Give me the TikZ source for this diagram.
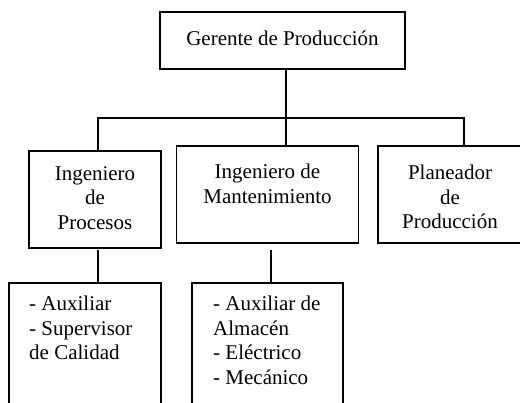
\documentclass[tikz,border=0pt]{standalone}
\usepackage{fontspec}
\setmainfont{Liberation Serif}
\begin{document}
\begin{tikzpicture}[x=1pt,y=-1pt,
  box/.style={draw=black,line width=1.3pt,inner sep=0pt},
  conn/.style={draw=black,line width=1.3pt},
  txt/.style={inner sep=0pt,font=\fontsize{21}{24.5}\selectfont}]
\useasboundingbox (0,0) rectangle (520,403);
\clip (0,0) rectangle (520,403);
% boxes
\node[box,minimum width=245pt,minimum height=57pt] (top) at (282.5,40.5) {};
\node[box,minimum width=132pt,minimum height=97pt] (left) at (95,199.5) {};
\node[box,minimum width=182pt,minimum height=97pt] (mid) at (267.5,194.5) {};
\node[box,minimum width=200pt,minimum height=97pt] (right) at (478,194.5) {};
\node[box,minimum width=152pt,minimum height=150pt] (lsub) at (85,358) {};
\node[box,minimum width=151pt,minimum height=150pt] (msub) at (267.5,358) {};
% texts
\node[txt] (ttop) at (282.5,38) {Gerente de Producción};
\node[txt,align=center,anchor=north] (tleft) at (95,166) {Ingeniero\\de\\Procesos};
\node[txt,align=center,anchor=north] (tmid) at (267.5,164) {Ingeniero de\\Mantenimiento};
\node[txt,align=center,anchor=north] (tright) at (450,165) {Planeador\\de\\Producción};
\node[txt,align=left,anchor=north west] (tlsub) at (29,296) {- Auxiliar\\- Supervisor\\de Calidad};
\node[txt,align=left,anchor=north west] (tmsub) at (213,296) {- Auxiliar de\\Almacén\\- Eléctrico\\- Mecánico};
% connectors
\coordinate (busL) at (98,118);
\coordinate (busR) at (464,118);
\coordinate (topc) at (286,69);
\coordinate (lsubtop) at (98,250.5);
\coordinate (msubtop) at (271,250.5);
\draw[conn] (topc) -- (topc |- mid.north);
\draw[conn] (busL |- left.north) -- (busL) -- (busR) -- (busR |- right.north);
\draw[conn] (lsubtop) -- (lsubtop |- lsub.north);
\draw[conn] (msubtop) -- (msubtop |- msub.north);
\end{tikzpicture}
\end{document}
